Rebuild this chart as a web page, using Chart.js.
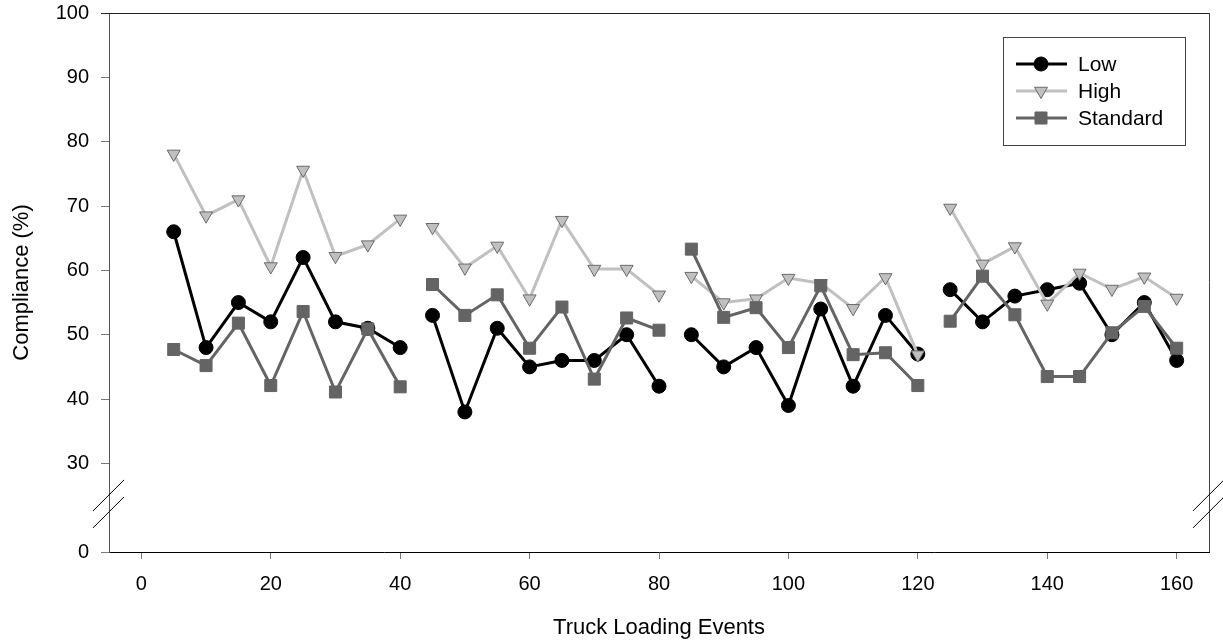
<!DOCTYPE html>
<html>
<head>
<meta charset="utf-8">
<title>Compliance vs Truck Loading Events</title>
<script src="https://cdn.jsdelivr.net/npm/chart.js@4.4.1/dist/chart.umd.min.js"></script>
<style>
    html, body { margin: 0; padding: 0; background: #fff; }
    #wrap { width: 1223px; height: 644px; }
</style>
</head>
<body>
<div id="wrap"><canvas id="myChart" width="1223" height="644"></canvas></div>
<script>
// Truck loading events (every 5th), four sessions of 8 events each
const events = [5, 10, 15, 20, 25, 30, 35, 40,
    45, 50, 55, 60, 65, 70, 75, 80,
    85, 90, 95, 100, 105, 110, 115, 120,
    125, 130, 135, 140, 145, 150, 155, 160];
const sessionEnds = [40, 80, 120];

// Compliance (%)
const low = [66, 48, 55, 52, 62, 52, 51, 48,
    53, 38, 51, 45, 46, 46, 50, 42,
    50, 45, 48, 39, 54, 42, 53, 47,
    57, 52, 56, 57, 58, 50, 55, 46];
const high = [78.1, 68.5, 71, 60.6, 75.6, 62.2, 64, 68,
    66.7, 60.4, 63.8, 55.6, 67.8, 60.2, 60.2, 56.2,
    59.1, 55, 55.6, 58.8, 58, 54.1, 58.9, 46.9,
    69.7, 61, 63.7, 54.8, 59.6, 57.1, 59, 55.7];
const standard = [47.7, 45.2, 51.8, 42.1, 53.6, 41.1, 50.9, 41.9,
    57.8, 53, 56.2, 47.9, 54.3, 43.1, 52.6, 50.7,
    63.3, 52.7, 54.2, 48, 57.6, 46.9, 47.2, 42.1,
    52.1, 59.1, 53.1, 43.5, 43.5, 50.3, 54.4, 47.9];

const xTicks = [0, 20, 40, 60, 80, 100, 120, 140, 160];
const yTicks = [30, 40, 50, 60, 70, 80, 90, 100];

// the axis is broken between 0 and 30, the "0" tick sits at this value
const ZERO_AT = 16.23;
const FONT = "'Liberation Sans', Arial, sans-serif";

// build {x, y} points with a null between sessions so the line breaks
function toPoints(values) {
    const pts = [];
    events.forEach((e, i) => {
        pts.push({ x: e, y: values[i] });
        if (sessionEnds.includes(e)) pts.push({ x: e + 2.5, y: null });
    });
    return pts;
}

const series = [
    { label: 'Low', values: low, color: '#000000', fill: '#000000', stroke: '#000000', style: 'circle', radius: 7, rotation: 0, order: 3 },
    { label: 'High', values: high, color: '#c0c0c0', fill: '#c0c0c0', stroke: '#6a6a6a', style: 'triangle', radius: 7.5, rotation: 180, order: 2 },
    { label: 'Standard', values: standard, color: '#646464', fill: '#646464', stroke: '#646464', style: 'rect', radius: 8.5, rotation: 0, order: 1 }
];

// frame (top/right lines) and axis break marks
const framePlugin = {
    id: 'frame',
    afterDraw(chart) {
        const { ctx, chartArea } = chart;
        const y = chart.scales.y;
        ctx.save();
        ctx.lineWidth = 1;
        ctx.strokeStyle = '#222';
        ctx.beginPath();
        ctx.moveTo(chartArea.left - 8, chartArea.top + 0.5);
        ctx.lineTo(chartArea.right, chartArea.top + 0.5);
        ctx.stroke();
        ctx.strokeStyle = '#444';
        ctx.beginPath();
        ctx.moveTo(chartArea.right + 0.5, chartArea.top);
        ctx.lineTo(chartArea.right + 0.5, chartArea.bottom);
        ctx.stroke();

        // double slash on both vertical axes
        const mid = y.getPixelForValue(30) + 40;
        ctx.strokeStyle = '#000';
        [chartArea.left, chartArea.right].forEach(ax => {
            [-8.5, 8.5].forEach(off => {
                ctx.beginPath();
                ctx.moveTo(ax - 16, mid + off + 16);
                ctx.lineTo(ax + 15, mid + off - 15);
                ctx.stroke();
            });
        });
        ctx.restore();
    }
};

// boxed legend inside the plot, upper right
const legendPlugin = {
    id: 'boxLegend',
    afterDraw(chart) {
        const { ctx, chartArea } = chart;
        const right = chartArea.right - 24;
        const left = right - 182;
        const top = chartArea.top + 24;
        ctx.save();
        ctx.fillStyle = '#fff';
        ctx.fillRect(left, top, right - left, 108);
        ctx.strokeStyle = '#444';
        ctx.lineWidth = 1;
        ctx.strokeRect(left + 0.5, top + 0.5, right - left, 108);

        series.forEach((s, i) => {
            const yy = top + 27 + i * 27;
            ctx.strokeStyle = s.color;
            ctx.lineWidth = 3;
            ctx.beginPath();
            ctx.moveTo(left + 13, yy);
            ctx.lineTo(left + 64, yy);
            ctx.stroke();
            ctx.fillStyle = s.fill;
            ctx.strokeStyle = s.stroke;
            ctx.lineWidth = 1;
            Chart.helpers.drawPoint(ctx, { pointStyle: s.style, radius: s.radius, rotation: s.rotation, borderWidth: 1 }, left + 38, yy);
            ctx.fillStyle = '#000';
            ctx.font = '21px ' + FONT;
            ctx.textBaseline = 'middle';
            ctx.textAlign = 'left';
            ctx.fillText(s.label, left + 75, yy + 1);
        });
        ctx.restore();
    }
};

const ctx = document.getElementById('myChart').getContext('2d');

new Chart(ctx, {
    type: 'line',
    data: {
        datasets: series.map(s => ({
            label: s.label,
            data: toPoints(s.values),
            borderColor: s.color,
            borderWidth: 3,
            backgroundColor: s.fill,
            pointStyle: s.style,
            pointRadius: s.radius,
            pointRotation: s.rotation,
            pointBackgroundColor: s.fill,
            pointBorderColor: s.stroke,
            pointBorderWidth: 1,
            spanGaps: false,
            tension: 0,
            order: s.order
        }))
    },
    options: {
        responsive: false,
        animation: false,
        devicePixelRatio: 1,
        layout: { padding: { top: 13, right: 14, left: 0, bottom: 0 } },
        plugins: {
            legend: { display: false },
            tooltip: { enabled: false }
        },
        scales: {
            x: {
                type: 'linear',
                min: -5,
                max: 165,
                afterBuildTicks: (s) => { s.ticks = xTicks.map(v => ({ value: v })); },
                afterFit: (s) => {
                    s.height = 92;
                    s.paddingLeft = 0;
                    s.paddingRight = 0;
                },
                ticks: {
                    color: '#000',
                    font: { family: FONT, size: 20 },
                    padding: 13,
                    maxRotation: 0
                },
                grid: { drawOnChartArea: false, drawTicks: true, tickLength: 7, tickColor: '#777' },
                border: { color: '#000', width: 1 },
                title: {
                    display: true,
                    text: 'Truck Loading Events',
                    color: '#000',
                    font: { family: FONT, size: 22 },
                    padding: { top: 0, bottom: 3 }
                }
            },
            y: {
                type: 'linear',
                min: ZERO_AT,
                max: 100,
                afterBuildTicks: (s) => { s.ticks = [ZERO_AT].concat(yTicks).map(v => ({ value: v })); },
                afterFit: (s) => {
                    s.width = 109;
                    s.paddingTop = 0;
                    s.paddingBottom = 0;
                },
                ticks: {
                    color: '#000',
                    font: { family: FONT, size: 20 },
                    padding: 12,
                    callback: (v) => v === ZERO_AT ? '0' : String(v)
                },
                grid: { drawOnChartArea: false, drawTicks: true, tickLength: 8, tickColor: '#777' },
                border: { color: '#555', width: 1 },
                title: {
                    display: true,
                    text: 'Compliance (%)',
                    color: '#000',
                    font: { family: FONT, size: 22 },
                    padding: { top: 9, bottom: 0 }
                }
            }
        }
    },
    plugins: [framePlugin, legendPlugin]
});
</script>
</body>
</html>
